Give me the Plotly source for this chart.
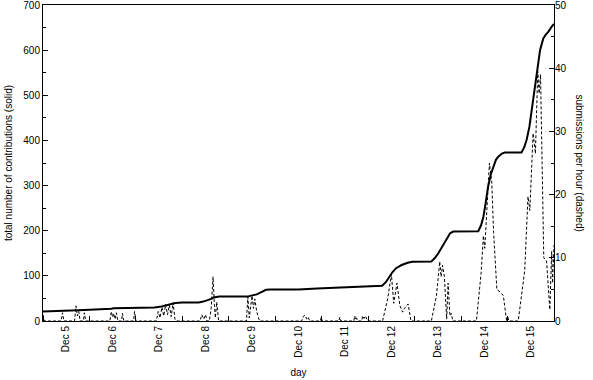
import plotly.graph_objects as go

# ---- data (x = days since Dec 5 00:00) ----
day_labels = ["Dec 5", "Dec 6", "Dec 7", "Dec 8", "Dec 9", "Dec 10",
              "Dec 11", "Dec 12", "Dec 13", "Dec 14", "Dec 15"]

total_days = [0, 0.5, 0.7, 0.75, 1.0, 1.4, 1.47, 1.52, 2.0, 2.4, 2.55, 2.7, 2.85,
              3.0, 3.35, 3.45, 3.55, 3.62, 3.67, 3.8, 4.4, 4.5, 4.6, 4.7, 4.8, 4.9,
              5.5, 5.9, 6.5, 7.0, 7.3, 7.38, 7.45, 7.52, 7.6, 7.72, 7.85, 7.95,
              8.36, 8.44, 8.51, 8.6, 8.69, 8.76, 8.83, 9.37, 9.43, 9.48, 9.53,
              9.58, 9.64, 9.69, 9.75, 9.80, 9.88, 9.94, 10.30, 10.36, 10.41,
              10.47, 10.52, 10.58, 10.63, 10.67, 10.70, 10.74, 10.77, 10.82,
              10.88, 10.95, 11.0]
total_values = [21, 22, 23, 24, 25, 26, 27, 28, 29, 30, 32, 36, 40,
                41, 41, 43, 46, 49, 52, 54, 54, 56, 59, 64, 69, 70,
                70, 72, 75, 77, 78, 86, 98, 108, 117, 124, 129, 131,
                132, 140, 150, 167, 183, 194, 198, 199, 212, 231, 262,
                297, 325, 342, 357, 364, 371, 373, 373, 385, 401,
                430, 467, 510, 549, 580, 600, 615, 626, 634,
                641, 652, 658]

rate_days = [0.0, 0.03, 0.39, 0.42, 0.45, 0.68, 0.71, 0.74, 0.77, 0.80, 0.87, 0.89, 0.92,
             1.44, 1.47, 1.50, 1.52, 1.55, 1.58, 1.61, 1.69, 1.71, 1.74, 1.95, 1.97, 2.0,
             2.44, 2.48, 2.52, 2.56, 2.60, 2.64, 2.68, 2.72, 2.76, 2.80, 2.84, 2.87,
             3.38, 3.42, 3.46, 3.50, 3.53, 3.58, 3.62, 3.66, 3.69, 3.71, 3.74, 3.78,
             4.38, 4.41, 4.44, 4.47, 4.50, 4.53, 4.56, 4.60, 4.66,
             5.57, 5.60, 5.64, 5.68, 5.71, 5.74, 5.97, 5.99, 6.01, 6.37, 6.39, 6.41,
             6.69, 6.71, 6.73, 6.75, 6.77, 6.86, 6.88, 6.91, 6.94, 6.97, 6.99,
             7.31, 7.42, 7.50, 7.55, 7.62, 7.68, 7.74, 7.78, 7.86, 7.92,
             8.36, 8.47, 8.54, 8.57, 8.60, 8.64, 8.69, 8.72, 8.76, 8.79, 8.82,
             9.33, 9.43, 9.48, 9.51, 9.56, 9.61, 9.66, 9.70, 9.77, 9.84, 9.91, 9.98,
             10.0, 10.03, 10.23, 10.37, 10.44, 10.48, 10.55, 10.60, 10.65, 10.68,
             10.71, 10.75, 10.78, 10.84, 10.88, 10.91, 10.95, 10.97, 11.0]
rate_values = [1.0, 0, 0, 1.3, 0, 0, 2.4, 0.8, 1.5, 0, 0, 1.3, 0,
               0, 1.5, 0.6, 1.2, 0.3, 1.3, 0, 0, 1.2, 0, 0, 1.5, 0,
               0, 1.5, 0.5, 2.2, 0.8, 2.6, 1.0, 2.5, 0.7, 2.9, 0.3, 0,
               0, 1.0, 0.3, 1.0, 0, 0, 2.0, 7.0, 2.5, 0.5, 3.0, 0,
               0, 3.8, 0.5, 2.5, 4.0, 2.0, 3.5, 1.5, 0,
               0, 0.7, 0.9, 0.3, 0.6, 0, 0, 0.6, 0, 0, 0.6, 0,
               0, 0.8, 0.2, 0.5, 0, 0, 0.8, 0.4, 0.8, 0.3, 0,
               0, 3.5, 7.4, 2.8, 6.0, 2.5, 1.4, 2.0, 2.7, 0,
               0, 4.0, 9.4, 7.0, 8.8, 7.0, 0.3, 6.0, 0.8, 1.2, 0,
               0, 7.5, 13.5, 11.5, 18.0, 25.0, 22.0, 14.0, 5.0, 4.6, 4.0, 0,
               0.8, 0, 0, 8.0, 19.7, 17.5, 29.7, 26.5, 39.5, 36.0,
               39.0, 22.0, 10.0, 9.5, 5.0, 1.8, 11.0, 6.0, 12.0]

label_pos = [i + 0.5 for i in range(len(day_labels))]
midnights = list(range(0, 12))

FONT = "Liberation Sans, Arial, sans-serif"

fig = go.Figure()
fig.add_trace(go.Scatter(x=total_days, y=total_values, mode="lines",
                         line=dict(color="black", width=2), yaxis="y",
                         showlegend=False))
fig.add_trace(go.Scatter(x=rate_days, y=rate_values, mode="lines",
                         line=dict(color="black", width=1, dash="3px,2px"),
                         yaxis="y2", showlegend=False))

fig.update_layout(
    width=593, height=380,
    margin=dict(l=43, r=39, t=5, b=59),
    paper_bgcolor="white", plot_bgcolor="white",
    font=dict(family=FONT, size=10, color="black"),
    xaxis=dict(range=[0, 11], tickmode="array", tickvals=label_pos,
               ticktext=day_labels, tickangle=-90, ticks="",
               showline=True, linecolor="black", linewidth=1, mirror=True,
               showgrid=False, zeroline=False, automargin=False,
               minor=dict(tickmode="array", tickvals=midnights, ticks="inside",
                          ticklen=5, tickcolor="black", showgrid=False),
               title=dict(text="day", font=dict(size=10), standoff=12)),
    yaxis=dict(range=[0, 700], dtick=100, ticks="inside", ticklen=5,
               tickcolor="black", showline=True, linecolor="black",
               linewidth=1, mirror=True, showgrid=False, zeroline=False,
               automargin=False, ticklabeloverflow="allow",
               minor=dict(dtick=50, ticks="inside", ticklen=3,
                          tickcolor="black", showgrid=False),
               title=dict(text="total number of contributions (solid)",
                          font=dict(size=10), standoff=8)),
    yaxis2=dict(range=[0, 50], dtick=10, overlaying="y", side="right",
                ticks="inside", ticklen=5, tickcolor="black",
                showline=False, showgrid=False, zeroline=False,
                automargin=False, ticklabeloverflow="allow",
                minor=dict(dtick=5, ticks="inside", ticklen=3,
                           tickcolor="black", showgrid=False)),
    annotations=[dict(text="submissions per hour (dashed)", textangle=90,
                      xref="paper", yref="paper", x=1.0, y=0.5,
                      xshift=33, showarrow=False, font=dict(size=10))],
)

# remove the browser's default 8px page margin so the figure sits at (0, 0)
fig.write_html("out.html",
               config={"displayModeBar": False},
               post_script="document.body.style.margin='0';"
                           "document.body.style.overflow='hidden';")
